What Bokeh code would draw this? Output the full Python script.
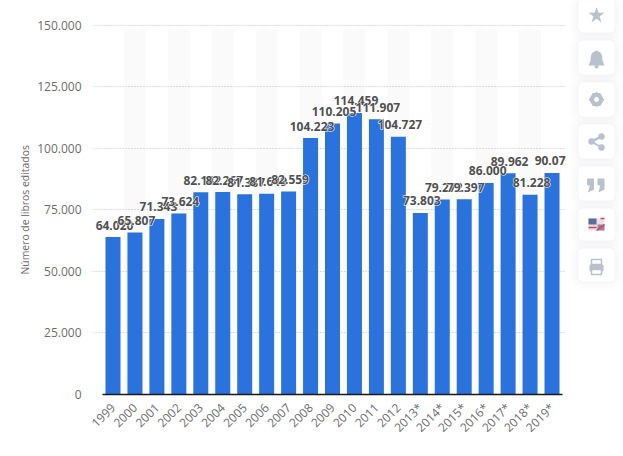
from math import pi
from bokeh.plotting import figure
from bokeh.layouts import row
from bokeh.models import FixedTicker, Range1d, Title
from bokeh.core.properties import value
from bokeh.embed import file_html
from bokeh.resources import INLINE

years = ["1999", "2000", "2001", "2002", "2003", "2004", "2005", "2006", "2007", "2008", "2009",
         "2010", "2011", "2012", "2013*", "2014*", "2015*", "2016*", "2017*", "2018*", "2019*"]
books = [64020, 65807, 71343, 73624, 82182, 82267, 81387, 81649, 82559, 104223, 110205,
         114459, 111907, 104727, 73803, 79272, 79397, 86000, 89962, 81228, 90072]
book_labels = ["64.020", "65.807", "71.343", "73.624", "82.182", "82.267", "81.387", "81.649", "82.559",
               "104.223", "110.205", "114.459", "111.907", "104.727", "73.803", "79.272", "79.397",
               "86.000", "89.962", "81.228", "90.072"]
y_ticks = [0, 25000, 50000, 75000, 100000, 125000, 150000]
y_tick_labels = ["0", "25.000", "50.000", "75.000", "100.000", "125.000", "150.000"]
y_title = "Número de libros editados"

FONT = "Open Sans"
idx = list(range(len(years)))

p = figure(width=566, height=456, output_backend="svg", toolbar_location=None,
           x_range=Range1d(-0.934, 20.66), y_range=Range1d(0, 160160),
           min_border_left=92, min_border_right=0, min_border_top=0, min_border_bottom=62)
p.outline_line_color = None
p.background_fill_color = "white"
p.border_fill_color = "white"

# stripes
stripe_x = [i for i in idx if i % 2 == 1]
p.vbar(x=stripe_x, width=1.0, bottom=0, top=148600, fill_color="#fafafa", line_color=None, level="underlay")

p.vbar(x=idx, top=books, width=0.683, bottom=0, fill_color="#2a72dc", line_color=None)

# one halo + text per label: later labels overdraw the earlier ones
for i in idx:
    common = dict(x=[i], y=[books[i]], text=[book_labels[i]], text_font=value(FONT), text_font_style="bold",
                  text_font_size="12px", text_align="center", text_baseline="middle", x_offset=1.5, y_offset=-12)
    p.text(text_color="white", text_outline_color="white", **common)
    p.text(text_color="#505050", **common)

# axes
xa = p.xaxis[0]
xa.ticker = FixedTicker(ticks=idx)
xa.major_label_overrides = {i: y for i, y in zip(idx, years)}
xa.major_label_orientation = pi / 4
xa.major_label_text_font = FONT
xa.major_label_text_font_size = "12px"
xa.major_label_text_color = "#6d6d6d"
xa.major_tick_line_color = None
xa.minor_tick_line_color = None
xa.axis_line_color = "#1a1a1a"
xa.axis_line_width = 1.5
xa.major_label_standoff = 5
xa.bounds = (-0.478, 20.478)

ya = p.yaxis[0]
ya.ticker = FixedTicker(ticks=y_ticks)
ya.major_label_overrides = {t: s for t, s in zip(y_ticks, y_tick_labels)}
ya.major_label_text_font = FONT
ya.major_label_text_font_size = "12px"
ya.major_label_text_color = "#6d6d6d"
ya.major_tick_line_color = None
ya.minor_tick_line_color = None
ya.axis_line_color = None
ya.major_label_standoff = 5

p.add_layout(Title(text=y_title, align="left", offset=120, standoff=5,
                   text_font=FONT, text_font_style="normal", text_font_size="10.4px",
                   text_color="#6d6d6d"), "left")

p.xgrid.visible = False
yg = p.ygrid[0]
yg.grid_line_color = "#bdbdbd"
yg.grid_line_dash = "1 2"
yg.grid_line_width = 1
yg.bounds = (-0.478, 20.45)

# side toolbar cards, in page pixels
s = figure(width=57, height=456, output_backend="svg", toolbar_location=None,
           x_range=Range1d(566, 623), y_range=Range1d(394, 0), x_axis_type=None, y_axis_type=None,
           min_border=0, min_border_left=0, min_border_right=0, min_border_top=0, min_border_bottom=62)
s.outline_line_color = None
s.grid.visible = False
s.border_fill_color = "white"

card_tops = [-2, 40, 82, 124, 166, 208, 248]
card_bottoms = [32, 74, 116, 158, 200, 240, 281]
for grow, alpha in [(10, 0.012), (7, 0.016), (4, 0.02), (2, 0.025)]:
    s.quad(left=578 - grow, right=614 + grow, top=[t - grow for t in card_tops],
           bottom=[b + grow for b in card_bottoms], fill_color="#8a94a6", fill_alpha=alpha,
           line_color=None, border_radius=6 + grow)
s.quad(left=578, right=614, top=card_tops, bottom=card_bottoms, fill_color="white", line_color=None, border_radius=5)

ICON = "#b9c1cc"
# star
s.scatter([596], [15], marker="star", size=17, fill_color=ICON, line_color=None)
# bell
s.patch([596, 592, 590.5, 590, 588, 604, 602, 601.5, 600, 596],
        [50, 52, 55, 60, 65, 65, 60, 55, 52, 50], fill_color=ICON, line_color=None)
s.circle([596], [66], radius=2, fill_color=ICON, line_color=None)
# gear
s.scatter([596], [99], marker="hex", size=15, fill_color=ICON, line_color=None)
s.scatter([596], [99], marker="square", size=11, angle=pi / 4, fill_color=ICON, line_color=None)
s.circle([596], [99], radius=2.4, fill_color="white", line_color=None)
# share
s.segment([601, 591, 591], [136, 141, 141], [591, 601, 601], [141, 147, 136], line_color=ICON, line_width=2)
s.circle([601, 591, 601], [136, 141, 147], radius=3.2, fill_color=ICON, line_color=None)
# quotes
for q in (590.5, 601):
    s.quad(left=q - 4, right=q + 3, top=178, bottom=185, fill_color=ICON, line_color=None, border_radius=1)
    s.patch([q - 1, q + 3, q + 3, q - 3], [184, 184, 189, 192], fill_color=ICON, line_color=None)
# flag
s.quad(left=588, right=604, top=218, bottom=230, fill_color="#e9dfe6", line_color=None)
s.quad(left=588, right=596, top=218, bottom=224, fill_color="#5f6a9c", line_color=None)
s.quad(left=597, right=604, top=224, bottom=230, fill_color="#7a3f62", fill_alpha=0.6, line_color=None)
s.segment([596, 600], [230, 218], [604, 604], [224, 218], line_color="#c9485b", line_width=1.5)
s.segment([588], [227], [596], [227], line_color="#c9485b", line_width=1.5)
# printer
s.quad(left=591, right=601, top=259, bottom=264, fill_color="white", line_color=ICON, line_width=1.5)
s.quad(left=589, right=603, top=264, bottom=271, fill_color=ICON, line_color=None, border_radius=1)
s.quad(left=591, right=601, top=269, bottom=274, fill_color="white", line_color=ICON, line_width=1.5)

layout = row(p, s, spacing=0)
open("out.html", "w").write(file_html(layout, INLINE))
